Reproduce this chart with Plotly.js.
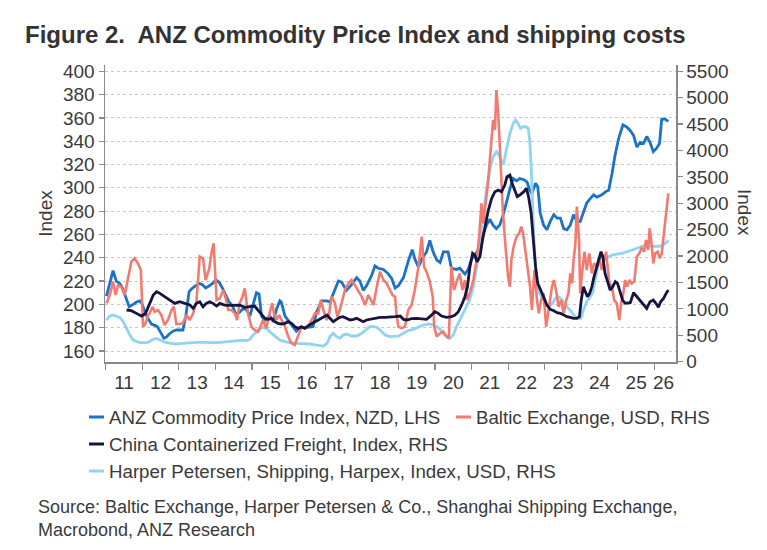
<!DOCTYPE html>
<html>
<head>
<meta charset="utf-8">
<script src="https://cdn.plot.ly/plotly-3.0.1.min.js"></script>
<style>html,body{margin:0;padding:0;background:#fff;}#chart{width:767px;height:550px;}</style>
</head>
<body>
<div id="chart"></div>
<script>
// ---- Data (decimal years) ----
const anzYears = [2011.02,2011.11,2011.2,2011.29,2011.38,2011.46,2011.55,2011.64,2011.75,2011.84,2011.93,2012.0,2012.08,2012.17,2012.25,2012.34,2012.41,2012.5,2012.59,2012.66,2012.75,2012.84,2012.93,2013.02,2013.11,2013.19,2013.28,2013.37,2013.46,2013.55,2013.64,2013.73,2013.83,2013.92,2014.01,2014.1,2014.19,2014.28,2014.37,2014.46,2014.55,2014.65,2014.74,2014.84,2014.94,2015.03,2015.12,2015.19,2015.26,2015.35,2015.48,2015.58,2015.67,2015.76,2015.8,2015.9,2015.99,2016.12,2016.21,2016.31,2016.49,2016.67,2016.76,2016.9,2017.04,2017.13,2017.22,2017.36,2017.45,2017.58,2017.72,2017.86,2017.95,2018.04,2018.13,2018.27,2018.36,2018.45,2018.59,2018.73,2018.82,2018.91,2019.0,2019.14,2019.27,2019.38,2019.45,2019.55,2019.64,2019.77,2019.86,2019.95,2020.05,2020.14,2020.23,2020.36,2020.45,2020.59,2020.68,2020.82,2020.91,2021.0,2021.09,2021.18,2021.27,2021.41,2021.5,2021.59,2021.68,2021.77,2021.86,2021.95,2022.05,2022.14,2022.23,2022.32,2022.43,2022.52,2022.59,2022.65,2022.75,2022.81,2022.88,2022.97,2023.06,2023.15,2023.25,2023.34,2023.43,2023.52,2023.61,2023.7,2023.79,2023.88,2023.97,2024.06,2024.15,2024.25,2024.34,2024.43,2024.56,2024.68,2024.75,2024.84,2024.93,2025.02,2025.14,2025.25,2025.34,2025.43,2025.52,2025.61,2025.7,2025.79,2025.88,2025.97,2026.06,2026.14,2026.2,2026.29,2026.38];
const anzValues = [207,218,229,220,218,214,205,198,200,202,203,200,192,187,183,182,181,176,171,172,175,177,178,178,178,190,211,214,216,218,217,214,216,218,221,219,214,208,202,199,192,193,196,196,190,200,210,209,190,186,190,185,196,203,202,190,186,181,177,180,180,181,193,203,203,202,209,220,219,212,217,223,220,212,216,225,233,231,230,226,222,214,216,223,237,247,239,232,239,245,255,245,238,236,245,245,231,230,231,226,230,239,242,247,256,268,273,268,265,268,276,288,299,308,306,308,307,305,298,295,304,301,278,268,264,271,277,274,274,265,264,268,277,271,271,279,287,291,294,292,294,297,298,312,329,342,354,352,349,345,335,339,338,344,339,331,334,338,359,359,357];

const balticYears = [2011.02,2011.11,2011.2,2011.27,2011.34,2011.43,2011.52,2011.61,2011.7,2011.79,2011.88,2011.96,2012.02,2012.09,2012.16,2012.2,2012.28,2012.34,2012.43,2012.52,2012.61,2012.7,2012.8,2012.86,2012.93,2013.02,2013.11,2013.21,2013.3,2013.39,2013.48,2013.57,2013.66,2013.73,2013.83,2013.89,2013.95,2014.03,2014.12,2014.21,2014.28,2014.35,2014.44,2014.53,2014.59,2014.66,2014.74,2014.8,2014.89,2014.98,2015.07,2015.16,2015.23,2015.3,2015.39,2015.48,2015.55,2015.6,2015.67,2015.74,2015.8,2015.9,2015.99,2016.08,2016.17,2016.26,2016.35,2016.44,2016.53,2016.63,2016.72,2016.81,2016.88,2016.95,2017.04,2017.11,2017.17,2017.27,2017.33,2017.4,2017.47,2017.54,2017.63,2017.72,2017.81,2017.9,2018.0,2018.09,2018.18,2018.25,2018.32,2018.41,2018.5,2018.59,2018.68,2018.77,2018.84,2018.91,2018.95,2019.0,2019.09,2019.18,2019.27,2019.36,2019.45,2019.55,2019.64,2019.7,2019.77,2019.86,2019.94,2019.98,2020.05,2020.14,2020.23,2020.32,2020.38,2020.45,2020.52,2020.61,2020.68,2020.75,2020.82,2020.88,2020.95,2021.05,2021.14,2021.21,2021.27,2021.32,2021.39,2021.45,2021.53,2021.59,2021.64,2021.68,2021.73,2021.79,2021.86,2021.93,2022.0,2022.05,2022.09,2022.15,2022.23,2022.3,2022.36,2022.41,2022.48,2022.54,2022.6,2022.65,2022.72,2022.79,2022.84,2022.9,2022.97,2023.04,2023.11,2023.2,2023.25,2023.31,2023.38,2023.45,2023.52,2023.59,2023.65,2023.7,2023.75,2023.79,2023.84,2023.88,2023.94,2023.97,2024.04,2024.09,2024.15,2024.22,2024.29,2024.35,2024.43,2024.49,2024.56,2024.63,2024.68,2024.72,2024.77,2024.84,2024.9,2024.97,2025.04,2025.09,2025.15,2025.2,2025.25,2025.32,2025.38,2025.45,2025.52,2025.59,2025.65,2025.72,2025.77,2025.83,2025.87,2025.93,2025.97,2026.02,2026.09,2026.15,2026.2,2026.26,2026.32,2026.38];
const balticValues = [1105,1263,1515,1263,1452,1408,1263,1610,1894,1957,1862,1736,663,726,884,915,1042,947,978,884,694,789,978,1042,713,713,726,884,789,915,1136,1989,1957,1547,1768,2052,2241,1168,1199,1357,1199,978,978,915,789,1105,1231,1389,916,663,600,569,663,790,632,916,1105,916,790,884,790,663,474,347,316,474,663,632,663,790,916,916,1168,979,790,916,1231,1105,853,979,1168,1358,1484,1547,1453,1358,1231,1074,1263,1168,1074,1421,1705,1547,1484,1357,1263,1231,884,663,632,663,979,1074,1357,1800,2368,1800,1705,1516,1231,663,474,537,568,474,442,1800,1357,1547,1673,1357,1547,1168,1294,1547,1926,2368,3000,2620,3000,3377,4072,4577,4388,5145,4703,3756,2809,2178,1610,1420,1926,2178,2368,2430,2557,2431,2052,1673,1421,979,1736,1168,916,1168,1294,663,1042,1421,1547,1357,1042,1168,916,1168,1294,1673,1484,1925,2241,2936,2304,1294,1800,2083,1736,2052,1673,1863,1800,1989,1736,1957,2083,1800,1484,1421,1168,1105,789,1105,1294,1547,1421,1547,1484,1516,1989,2052,2147,2083,2304,2115,2526,2178,1863,2052,2083,1957,2052,2431,2873,3188];

const ccfiYears = [2011.57,2011.7,2011.84,2011.98,2012.09,2012.2,2012.3,2012.39,2012.48,2012.61,2012.75,2012.89,2013.02,2013.11,2013.21,2013.3,2013.39,2013.48,2013.57,2013.66,2013.75,2013.84,2013.93,2014.03,2014.12,2014.25,2014.39,2014.53,2014.66,2014.8,2014.94,2015.07,2015.16,2015.26,2015.35,2015.44,2015.53,2015.62,2015.71,2015.81,2015.9,2015.99,2016.08,2016.17,2016.26,2016.35,2016.44,2016.53,2016.63,2016.72,2016.81,2016.9,2016.99,2017.05,2017.13,2017.22,2017.31,2017.4,2017.49,2017.58,2017.68,2017.77,2017.86,2017.95,2018.04,2018.13,2018.22,2018.32,2018.41,2018.5,2018.64,2018.77,2018.91,2019.05,2019.14,2019.23,2019.36,2019.5,2019.64,2019.77,2019.86,2020.0,2020.09,2020.18,2020.32,2020.45,2020.55,2020.64,2020.73,2020.82,2020.89,2020.95,2021.03,2021.09,2021.15,2021.23,2021.3,2021.39,2021.45,2021.55,2021.64,2021.73,2021.82,2021.91,2021.97,2022.05,2022.11,2022.18,2022.25,2022.32,2022.43,2022.5,2022.56,2022.63,2022.68,2022.75,2022.81,2022.88,2022.97,2023.06,2023.15,2023.25,2023.34,2023.43,2023.52,2023.61,2023.7,2023.79,2023.88,2023.95,2024.0,2024.06,2024.11,2024.17,2024.23,2024.29,2024.35,2024.43,2024.49,2024.54,2024.59,2024.65,2024.72,2024.79,2024.86,2024.93,2024.99,2025.06,2025.13,2025.2,2025.26,2025.34,2025.43,2025.52,2025.61,2025.7,2025.79,2025.88,2025.97,2026.04,2026.11,2026.17,2026.25,2026.32,2026.38];
const ccfiValues = [979,966,915,865,915,1105,1263,1326,1294,1231,1168,1105,1136,1117,1105,1073,1010,1105,1136,1042,1105,1136,1105,1054,1105,1073,1067,1067,1073,1029,1042,1055,979,884,821,802,821,758,726,714,726,758,726,663,632,663,632,676,726,758,790,821,853,884,821,758,802,840,853,821,790,802,821,790,758,790,802,821,834,840,840,840,853,865,802,790,815,821,815,802,853,947,916,865,840,853,884,947,1074,1231,1421,1768,2052,2020,1894,1989,2304,2620,2841,3093,3219,3251,3219,3345,3503,3535,3377,3251,3125,3156,3220,3283,3125,2810,2305,1800,1484,1357,1231,1074,992,966,928,916,884,853,840,821,821,853,1168,1421,1326,1231,1294,1421,1610,1800,1989,2083,1989,1673,1516,1357,1421,1516,1484,1326,1168,1105,1105,1117,1306,1231,1168,1092,1010,1136,1168,1105,1029,1136,1199,1294,1357];

const harpexYears = [2011.02,2011.11,2011.2,2011.29,2011.38,2011.48,2011.57,2011.66,2011.75,2011.84,2011.93,2012.02,2012.11,2012.2,2012.29,2012.39,2012.48,2012.57,2012.66,2012.8,2012.93,2013.11,2013.3,2013.48,2013.66,2013.84,2014.03,2014.21,2014.39,2014.57,2014.76,2014.85,2014.94,2015.03,2015.12,2015.21,2015.3,2015.39,2015.48,2015.58,2015.67,2015.76,2015.9,2016.03,2016.22,2016.4,2016.58,2016.76,2016.95,2017.05,2017.13,2017.22,2017.31,2017.4,2017.49,2017.58,2017.72,2017.86,2018.0,2018.13,2018.22,2018.32,2018.41,2018.5,2018.64,2018.77,2018.91,2019.0,2019.14,2019.27,2019.41,2019.55,2019.68,2019.82,2019.95,2020.05,2020.14,2020.23,2020.32,2020.41,2020.5,2020.59,2020.68,2020.77,2020.86,2020.95,2021.05,2021.14,2021.23,2021.32,2021.41,2021.5,2021.59,2021.68,2021.75,2021.82,2021.88,2021.95,2022.05,2022.14,2022.21,2022.27,2022.34,2022.41,2022.48,2022.55,2022.59,2022.63,2022.66,2022.7,2022.74,2022.79,2022.86,2022.94,2023.02,2023.11,2023.2,2023.29,2023.38,2023.47,2023.56,2023.65,2023.75,2023.84,2023.93,2023.99,2024.06,2024.15,2024.25,2024.32,2024.38,2024.45,2024.5,2024.56,2024.65,2024.75,2024.84,2024.97,2025.11,2025.25,2025.38,2025.52,2025.65,2025.79,2025.93,2026.06,2026.2,2026.29,2026.38];
const harpexValues = [789,865,884,865,840,758,631,505,410,379,360,360,360,379,423,442,410,379,360,347,335,347,360,366,366,360,360,372,385,398,410,398,423,506,569,613,651,632,569,506,461,411,379,360,348,348,335,316,297,348,474,537,474,442,506,524,487,487,537,613,663,663,651,600,505,474,474,486,537,588,613,651,695,714,695,663,613,537,474,442,505,663,789,916,1010,1168,1420,1800,2305,2810,3251,3630,3882,3977,3914,3788,3756,4009,4325,4514,4577,4514,4419,4450,4450,4419,4198,3693,3062,2430,1926,1421,1294,1199,1105,1042,1092,1199,1231,1181,1073,1010,916,853,821,821,979,1136,1231,1326,1547,1800,1957,1989,1938,1989,2020,2039,2052,2083,2115,2147,2178,2210,2178,2178,2191,2241,2292];

// Axis labels
const yearStarts = [2011,2012,2013,2014,2015,2016,2017,2018,2019,2020,2021,2022,2023,2024,2025,2026];
const yearLabelPos = [2011.5,2012.5,2013.5,2014.5,2015.5,2016.5,2017.5,2018.5,2019.5,2020.5,2021.5,2022.5,2023.5,2024.5,2025.5,2026.25];
const yearLabels = ['11','12','13','14','15','16','17','18','19','20','21','22','23','24','25','26'];

const seriesNames = [
  'ANZ Commodity Price Index, NZD, LHS',
  'Baltic Exchange, USD, RHS',
  'China Containerized Freight, Index, RHS',
  'Harper Petersen, Shipping, Harpex, Index, USD, RHS'
];
const seriesColors = ['#1c72c8', '#f27b70', '#15153f', '#8fd4f0'];

const FONT = 'Liberation Sans, Arial, sans-serif';
const TXT = '#3a3a3a';
const AX = '#8a8a8a';

const traces = [
  {x: harpexYears, y: harpexValues, yaxis: 'y2', name: seriesNames[3], mode: 'lines', line: {color: seriesColors[3], width: 2.8}},
  {x: balticYears, y: balticValues, yaxis: 'y2', name: seriesNames[1], mode: 'lines', line: {color: seriesColors[1], width: 2.6}},
  {x: ccfiYears, y: ccfiValues, yaxis: 'y2', name: seriesNames[2], mode: 'lines', line: {color: seriesColors[2], width: 2.8}},
  {x: anzYears, y: anzValues, yaxis: 'y', name: seriesNames[0], mode: 'lines', line: {color: seriesColors[0], width: 2.8}}
];

// plot area in px: x 105..676, y 65..362
const L = 105, R = 676, T = 65, B = 362;
const px = v => (v - L) / (R - L);
const py = v => (B - v) / (B - T);

const legendRows = [
  {name: seriesNames[0], color: seriesColors[0], x: 89, y: 417},
  {name: seriesNames[1], color: seriesColors[1], x: 456, y: 417},
  {name: seriesNames[2], color: seriesColors[2], x: 89, y: 444},
  {name: seriesNames[3], color: seriesColors[3], x: 89, y: 471}
];

const shapes = legendRows.map(r => ({
  type: 'line', xref: 'paper', yref: 'paper',
  x0: px(r.x), x1: px(r.x + 15), y0: py(r.y), y1: py(r.y),
  line: {color: r.color, width: 3}
}));

const annotations = legendRows.map(r => ({
  xref: 'paper', yref: 'paper', x: px(r.x + 18), y: py(r.y),
  xanchor: 'left', yanchor: 'middle', showarrow: false,
  text: r.name, font: {family: FONT, size: 18.7, color: TXT}
}));

annotations.push({
  xref: 'paper', yref: 'paper', x: px(36), y: py(495),
  xanchor: 'left', yanchor: 'top', align: 'left', showarrow: false,
  text: 'Source: Baltic Exchange, Harper Petersen &amp; Co., Shanghai Shipping Exchange,<br>Macrobond, ANZ Research',
  font: {family: FONT, size: 18, color: TXT}
});

annotations.push({
  xref: 'paper', yref: 'paper', x: px(745), y: py(212),
  xanchor: 'center', yanchor: 'middle', showarrow: false, textangle: 90,
  text: 'Index', font: {family: FONT, size: 19, color: TXT}
});

const layout = {
  width: 767, height: 550,
  margin: {l: L, r: 767 - R, t: T, b: 550 - B},
  paper_bgcolor: '#ffffff', plot_bgcolor: '#ffffff',
  showlegend: false,
  font: {family: FONT, size: 19, color: TXT},
  title: {
    text: 'Figure 2.&nbsp; ANZ Commodity Price Index and shipping costs',
    xref: 'container', yref: 'container', x: 25 / 767, xanchor: 'left',
    y: 1 - 35 / 550, yanchor: 'middle',
    font: {family: FONT, size: 24, color: '#333333', weight: 700}
  },
  xaxis: {
    type: 'linear', range: [2010.98, 2026.59],
    tickmode: 'array', tickvals: yearLabelPos, ticktext: yearLabels,
    ticks: '', showgrid: false, zeroline: false,
    showline: true, linecolor: AX, linewidth: 1.5,
    ticklabelstandoff: 3,
    tickfont: {family: FONT, size: 19, color: TXT},
    minor: {tickmode: 'array', tickvals: yearStarts, ticks: 'outside', ticklen: 6, tickwidth: 1.2, tickcolor: AX, showgrid: false}
  },
  yaxis: {
    range: [150.56, 405.4], tickmode: 'linear', tick0: 160, dtick: 20,
    ticks: 'outside', ticklen: 5, tickwidth: 1.2, tickcolor: AX,
    showline: true, linecolor: AX, linewidth: 1.5,
    showgrid: true, gridcolor: '#c8c8c8', griddash: 'dot', gridwidth: 1,
    zeroline: false,
    tickfont: {family: FONT, size: 19, color: TXT},
    title: {text: 'Index', standoff: 5, font: {family: FONT, size: 19, color: TXT}}
  },
  yaxis2: {
    overlaying: 'y', side: 'right', anchor: 'x',
    range: [-5.7, 5619], tickmode: 'linear', tick0: 0, dtick: 500,
    ticks: 'outside', ticklen: 5, tickwidth: 1.2, tickcolor: AX,
    showline: true, linecolor: AX, linewidth: 1.5,
    showgrid: false, zeroline: false,
    tickfont: {family: FONT, size: 19, color: TXT}
  },
  shapes: shapes,
  annotations: annotations
};

Plotly.newPlot('chart', traces, layout, {displayModeBar: false, staticPlot: true});
</script>
</body>
</html>
